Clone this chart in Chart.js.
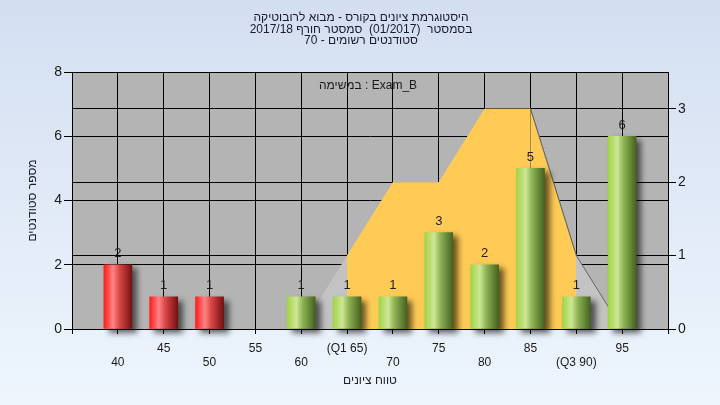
<!DOCTYPE html>
<html dir="ltr"><head><meta charset="utf-8">
<script src="https://cdn.jsdelivr.net/npm/chart.js@4"></script>
<style>html,body{margin:0;padding:0;background:#e4edf8;direction:ltr}canvas{display:block;direction:ltr}</style>
</head><body>
<canvas id="c" width="720" height="405" dir="ltr"></canvas>
<script>
const titleLines = ['היסטוגרמת ציונים בקורס - מבוא לרובוטיקה', 'בסמסטר  (01/2017)  סמסטר חורף 2017/18', 'סטודנטים רשומים - 70'];
const taskLabel = 'במשימה : Exam_B';
const xTitle = 'טווח ציונים';
const yTitle = 'מספר סטודנטים';
const categories = [40, 45, 50, 55, 60, 65, 70, 75, 80, 85, 90, 95];
const tickLabels = ['40', '45', '50', '55', '60', '(Q1 65)', '70', '75', '80', '85', '(Q3 90)', '95'];
const counts = [2, 1, 1, 0, 1, 1, 1, 3, 2, 5, 1, 6];
const curveX = [60, 65, 70, 75, 80, 85, 90, 95];
const curveY = [0, 1, 2, 2, 3, 3, 1, 0];
const q1 = 65, q3 = 90;
const passMark = 55;

const barData = categories.map((x, i) => ({x, y: counts[i] > 0 ? counts[i] : null}));
const curveData = curveX.map((x, i) => ({x, y: curveY[i]}));
const iqrData = curveData.filter(p => p.x >= q1 && p.x <= q3);
const BAR_W = 28;
const FONT = "'Liberation Sans', Arial, sans-serif";

Chart.defaults.font.family = FONT;

function barFill(c) {
  const fail = c.raw && c.raw.x < passMark;
  if (c.type !== 'data' || !c.chart.scales.x) return fail ? '#d84040' : '#8fb455';
  const cx = c.chart.scales.x.getPixelForValue(c.raw.x);
  if (!isFinite(cx)) return fail ? '#d84040' : '#8fb455';
  const g = c.chart.ctx.createLinearGradient(cx - BAR_W / 2, 0, cx + BAR_W / 2, 0);
  if (fail) {
    g.addColorStop(0, '#ff1c1c');
    g.addColorStop(0.33, '#ff8484');
    g.addColorStop(0.55, '#d94848');
    g.addColorStop(1, '#761010');
  } else {
    g.addColorStop(0, '#a2d446');
    g.addColorStop(0.33, '#cde797');
    g.addColorStop(0.55, '#8fb455');
    g.addColorStop(1, '#45621e');
  }
  return g;
}

const descending = ctx => ctx.p1.parsed.y < ctx.p0.parsed.y ? '#666666' : 'rgba(0,0,0,0)';

const deco = {
  id: 'deco',
  beforeDraw(chart) {
    const {ctx, chartArea: a, width, height} = chart;
    ctx.save();
    const g = ctx.createLinearGradient(0, 0, 0, height);
    g.addColorStop(0, '#d3dff1');
    g.addColorStop(1, '#eef5fd');
    ctx.fillStyle = g;
    ctx.fillRect(0, 0, width, height);
    ctx.fillStyle = '#b4b4b4';
    ctx.fillRect(a.left, a.top, a.right - a.left, a.bottom - a.top);
    ctx.restore();
  },
  beforeDatasetDraw(chart, args) {
    if (args.index === 0) {
      const ctx = chart.ctx;
      ctx.save();
      ctx.shadowColor = 'rgba(0,0,0,0.6)';
      ctx.shadowBlur = 6;
      ctx.shadowOffsetX = 5;
      ctx.shadowOffsetY = 4;
    }
  },
  afterDatasetDraw(chart, args) {
    if (args.index === 0) chart.ctx.restore();
  },
  afterDatasetsDraw(chart) {
    const ctx = chart.ctx;
    const meta = chart.getDatasetMeta(0);
    ctx.save();
    ctx.font = '13px ' + FONT;
    ctx.fillStyle = '#1e1e1e';
    ctx.textAlign = 'center';
    ctx.textBaseline = 'middle';
    meta.data.forEach((el, i) => {
      if (counts[i] > 0) ctx.fillText(String(counts[i]), el.x, el.y - 11);
    });
    ctx.restore();
  },
  afterDraw(chart) {
    const {ctx, chartArea: a} = chart;
    ctx.save();
    ctx.direction = 'ltr';
    ctx.strokeStyle = '#000';
    ctx.lineWidth = 1;
    ctx.beginPath();
    ctx.moveTo(a.left, Math.round(a.top) + 0.5);
    ctx.lineTo(a.right, Math.round(a.top) + 0.5);
    ctx.stroke();
    ctx.font = '12px ' + FONT;
    ctx.textAlign = 'center';
    ctx.textBaseline = 'middle';
    ctx.fillStyle = '#1a1a30';
    titleLines.forEach((t, i) => ctx.fillText(t, 361, 17.5 + i * 11.8));
    ctx.fillStyle = '#1a1a1a';
    ctx.fillText(taskLabel, 368, 86);
    ctx.fillStyle = '#1e1e2e';
    ctx.fillText(xTitle, (a.left + a.right) / 2, 381);
    ctx.translate(33, (a.top + a.bottom) / 2);
    ctx.rotate(-Math.PI / 2);
    ctx.fillText(yTitle, 0, 0);
    ctx.restore();
  }
};

new Chart(document.getElementById('c'), {
  type: 'bar',
  data: {
    datasets: [
      {type: 'bar', data: barData, xAxisID: 'x', yAxisID: 'y', barThickness: BAR_W,
       backgroundColor: barFill, borderWidth: 0, order: 0, clip: false},
      {type: 'line', data: iqrData, xAxisID: 'x', yAxisID: 'y2', backgroundColor: '#ffcb55',
       fill: 'origin', pointRadius: 0, borderWidth: 1, borderColor: 'rgba(0,0,0,0)',
       segment: {borderColor: descending}, tension: 0, order: 1},
      {type: 'line', data: curveData, xAxisID: 'x', yAxisID: 'y2', backgroundColor: '#c3c3c3',
       fill: 'origin', pointRadius: 0, borderWidth: 1, borderColor: 'rgba(0,0,0,0)',
       segment: {borderColor: descending}, tension: 0, order: 2}
    ]
  },
  options: {
    responsive: false,
    animation: false,
    devicePixelRatio: 1,
    layout: {padding: {top: 72, left: 0, right: 0, bottom: 0}},
    plugins: {legend: {display: false}, title: {display: false}, tooltip: {enabled: false}},
    scales: {
      x: {
        type: 'linear', position: 'bottom', min: 35, max: 100, offset: false,
        grid: {color: '#000', lineWidth: 1, tickLength: 5, offset: false, drawOnChartArea: true},
        border: {color: '#000', width: 1},
        ticks: {
          stepSize: 5, autoSkip: false, maxRotation: 0, minRotation: 0, padding: 7,
          font: {size: 12}, color: '#1a1a1a',
          callback: v => {
            const i = categories.indexOf(v);
            if (i < 0) return '';
            return i % 2 === 0 ? ['', tickLabels[i]] : [tickLabels[i], ''];
          }
        },
        afterFit: s => { s.height = 76; }
      },
      y: {
        type: 'linear', position: 'left', min: 0, max: 8,
        grid: {color: '#000', lineWidth: 1, tickLength: 8, drawOnChartArea: true},
        border: {color: '#000', width: 1},
        ticks: {stepSize: 2, padding: 2, font: {size: 14}, color: '#1a1a1a'},
        afterFit: s => { s.width = 72; }
      },
      y2: {
        type: 'linear', position: 'right', min: 0, max: 3.5,
        grid: {color: '#000', lineWidth: 1, tickLength: 8, drawOnChartArea: true},
        border: {color: '#000', width: 1},
        ticks: {stepSize: 1, padding: 2, font: {size: 14}, color: '#1a1a1a'},
        afterBuildTicks: s => { s.ticks = s.ticks.filter(t => Number.isInteger(t.value)); },
        afterFit: s => { s.width = 52; }
      }
    }
  },
  plugins: [deco]
});
</script>
</body></html>
